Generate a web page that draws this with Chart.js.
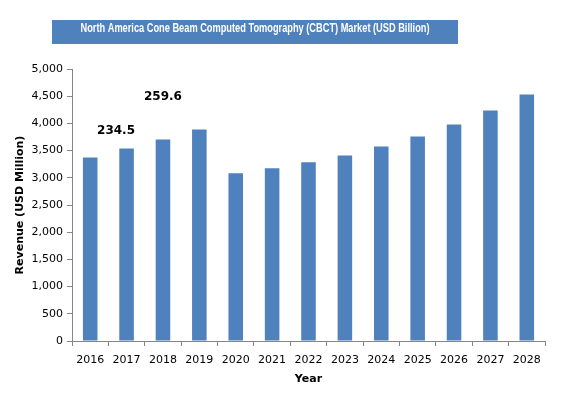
<!DOCTYPE html>
<html>
<head>
<meta charset="utf-8">
<script src="https://cdn.jsdelivr.net/npm/chart.js@4"></script>
<style>
  html, body { margin: 0; padding: 0; background: #fff; }
  #wrap { width: 588px; height: 398px; }
</style>
</head>
<body>
<div id="wrap"><canvas id="myChart" width="588" height="398"></canvas></div>
<script>
// chart data
const years = ['2016', '2017', '2018', '2019', '2020', '2021', '2022', '2023', '2024', '2025', '2026', '2027', '2028'];
const revenue = [3375, 3540, 3705, 3890, 3085, 3175, 3285, 3410, 3575, 3760, 3980, 4235, 4530];
const yTicks = [0, 500, 1000, 1500, 2000, 2500, 3000, 3500, 4000, 4500, 5000];

// floating labels in the picture (text, category position, value position)
const noteTexts = ['234.5', '259.6'];
const noteX = [0.71, 2.0];
const noteY = [3865, 4487];

const chartTitle = 'North America Cone Beam Computed Tomography (CBCT) Market (USD Billion)';

// title box + free text
const extras = {
  id: 'extras',
  afterDraw(chart) {
    const ctx = chart.ctx;
    const { x, y } = chart.scales;
    ctx.save();
    ctx.fillStyle = '#4F81BD';
    ctx.fillRect(52, 20, 406, 24);

    // squeeze the title to the condensed width of the original
    ctx.fillStyle = '#fff';
    ctx.font = 'bold 12px "Liberation Sans", sans-serif';
    ctx.textAlign = 'center';
    ctx.textBaseline = 'middle';
    const w = ctx.measureText(chartTitle).width;
    const sx = Math.min(1, 349 / w);
    ctx.save();
    ctx.translate(255, 28.5);
    ctx.scale(sx, 1);
    ctx.fillText(chartTitle, 0, 0);
    ctx.restore();

    ctx.fillStyle = '#000';
    ctx.font = 'bold 12px "DejaVu Sans", sans-serif';
    noteTexts.forEach((t, i) => {
      const px = x.getPixelForValue(0) + (x.getPixelForValue(1) - x.getPixelForValue(0)) * noteX[i];
      ctx.fillText(t, px, y.getPixelForValue(noteY[i]));
    });
    ctx.restore();
  }
};

const ctx = document.getElementById('myChart').getContext('2d');
new Chart(ctx, {
  type: 'bar',
  data: {
    labels: years,
    datasets: [{
      label: 'Revenue',
      data: revenue,
      backgroundColor: '#4F81BD',
      borderWidth: 0,
      barPercentage: 0.4,
      categoryPercentage: 1.0,
    }],
  },
  options: {
    responsive: false,
    animation: false,
    layout: { padding: { top: 69, right: 43, left: 10, bottom: 8 } },
    plugins: {
      legend: { display: false },
      tooltip: { enabled: false },
      title: { display: false },
    },
    scales: {
      x: {
        grid: { drawOnChartArea: false, color: '#868686', tickLength: 5 },
        border: { color: '#868686' },
        ticks: { color: '#000', font: { family: 'DejaVu Sans', size: 11 }, maxRotation: 0, padding: 8 },
        title: { display: true, text: 'Year', color: '#000', font: { family: 'DejaVu Sans', size: 11, weight: 'bold' }, padding: { top: 6 } },
        afterFit(scale) { scale.height = 49; },
      },
      y: {
        min: 0,
        max: 5000,
        afterBuildTicks(scale) { scale.ticks = yTicks.map(v => ({ value: v })); },
        grid: { drawOnChartArea: false, color: '#868686', tickLength: 5 },
        border: { color: '#868686' },
        ticks: {
          color: '#000',
          font: { family: 'DejaVu Sans', size: 11 },
          padding: 4,
          callback: v => v.toLocaleString('en-US'),
        },
        title: { display: true, text: 'Revenue (USD Million)', color: '#000', font: { family: 'DejaVu Sans', size: 11, weight: 'bold' }, padding: { bottom: 2 } },
        afterFit(scale) { scale.width = 62; },
      },
    },
  },
  plugins: [extras],
});
</script>
</body>
</html>
